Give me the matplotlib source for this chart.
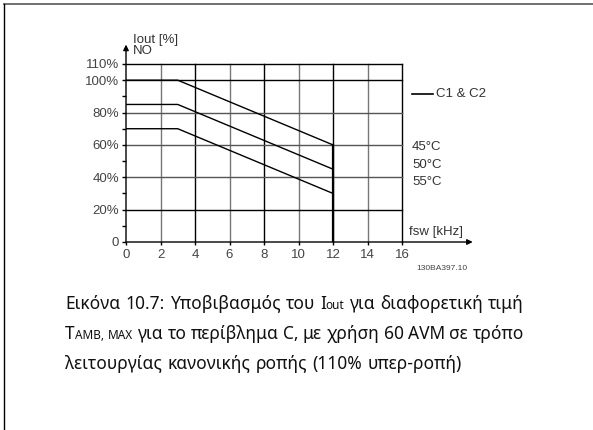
import matplotlib
matplotlib.use("Agg")
import matplotlib.pyplot as plt
from matplotlib.lines import Line2D

# derating curves, fsw [kHz] vs Iout [%]
fsw = [0, 3, 12]
iout_45 = [100, 100, 60]
iout_50 = [85, 85, 45]
iout_55 = [70, 70, 30]
temps = ["45°C", "50°C", "55°C"]

x_ticks = [0, 2, 4, 6, 8, 10, 12, 14, 16]
y_ticks = [0, 20, 40, 60, 80, 100, 110]
y_labels = ["0", "20%", "40%", "60%", "80%", "100%", "110%"]

W, H = 593, 430
fig = plt.figure(figsize=(W / 100, H / 100), dpi=100)


def fx(px):
    return px / W


def fy(py):
    return 1 - py / H


# page frame (top and left edge)
fig.add_artist(Line2D([fx(4), 1], [fy(4), fy(4)], color="#666666", lw=1.3))
fig.add_artist(Line2D([fx(4), fx(4)], [fy(4), 0], color="black", lw=1.0))

ax = fig.add_axes([fx(126), fy(242), fx(402) - fx(126), fy(64) - fy(242)])
ax.set_xlim(0, 16)
ax.set_ylim(0, 110)
for s in ax.spines.values():
    s.set_visible(False)

# grid
for xv in x_ticks[1:]:
    ax.axvline(xv, color="#777777" if xv % 4 else "black", lw=1.0, zorder=1, clip_on=False)
for yv in y_ticks[1:]:
    ax.axhline(yv, color="#555555" if yv in (80, 60, 40) else "black", lw=1.0, zorder=1, clip_on=False)

tick_font = dict(family="Liberation Sans", size=9.5, color="#444444")
ax.set_xticks(x_ticks)
ax.set_xticklabels([str(v) for v in x_ticks], **tick_font)
ax.set_yticks(y_ticks)
ax.set_yticklabels(y_labels, **tick_font)
ax.set_yticks([10, 30, 50, 70, 90], minor=True)
ax.tick_params(axis="y", which="both", length=3, width=1, pad=2, color="black")
ax.tick_params(axis="x", length=2, width=1, pad=3, color="black")

# curves
for ys in (iout_45, iout_50, iout_55):
    ax.plot(fsw, ys, color="black", lw=1.0, zorder=3)
ax.plot([fsw[-1], fsw[-1]], [0, iout_45[-1]], color="black", lw=1.6, zorder=3)

# axis arrows
ax.annotate("", xy=(0, 122), xytext=(0, 0), annotation_clip=False,
            arrowprops=dict(arrowstyle="-|>", color="black", lw=1.0,
                            mutation_scale=8, shrinkA=0, shrinkB=0))
ax.annotate("", xy=(20.1, 0), xytext=(0, 0), annotation_clip=False,
            arrowprops=dict(arrowstyle="-|>", color="black", lw=1.0,
                            mutation_scale=8, shrinkA=0, shrinkB=0))

lab = dict(family="Liberation Sans", size=9.5, color="#333333")
fig.text(fx(133), fy(40), "Iout [%]", va="center", ha="left", **lab)
fig.text(fx(133), fy(51), "NO", va="center", ha="left", **lab)
fig.text(fx(409), fy(232), "fsw [kHz]", va="center", ha="left", **lab)
fig.text(fx(416), fy(268), "130BA397.10", va="center", ha="left",
         family="Liberation Sans", size=6, color="#444444")

# legend / temperatures
fig.add_artist(Line2D([fx(412), fx(433)], [fy(94), fy(94)], color="black", lw=1.2))
fig.text(fx(436), fy(94), "C1 & C2", va="center", ha="left", **lab)
for i, t in enumerate(temps):
    fig.text(fx(412), fy(147 + 17.5 * i), t, va="center", ha="left", **lab)

# caption
fig.canvas.draw()
rend = fig.canvas.get_renderer()
cap = dict(family="Noto Sans", color="#111111")
BIG, SMALL = 12.5, 8.5


def place_line(words, ybase, x0, x1, justify):
    arts = []
    widths = []
    for w in words:
        pieces = []
        width = 0
        for txt, sz in w:
            t = fig.text(0, fy(ybase), txt, size=sz, va="baseline", ha="left", **cap)
            bb = t.get_window_extent(rend)
            pieces.append((t, width))
            width += bb.width
        arts.append(pieces)
        widths.append(width)
    a2 = fig.text(0, 0, "a a", size=BIG, **cap)
    a1 = fig.text(0, 0, "a", size=BIG, **cap)
    space = a2.get_window_extent(rend).width - 2 * a1.get_window_extent(rend).width
    a2.remove()
    a1.remove()
    if justify:
        gap = (x1 - x0 - sum(widths)) / (len(words) - 1)
    else:
        gap = space * 1.2
    x = x0
    for pieces, wdt in zip(arts, widths):
        for t, off in pieces:
            t.set_x(fx(x + off))
        x += wdt + gap


line1 = [[("Εικόνα", BIG)], [("10.7:", BIG)], [("Υποβιβασμός", BIG)], [("του", BIG)],
         [("I", BIG), ("out", SMALL)], [("για", BIG)], [("διαφορετική", BIG)], [("τιμή", BIG)]]
line2 = [[("T", BIG), ("AMB,", SMALL)], [("MAX", SMALL)], [("για", BIG)], [("το", BIG)],
         [("περίβλημα", BIG)], [("C,", BIG)], [("με", BIG)], [("χρήση", BIG)], [("60", BIG)],
         [("AVM", BIG)], [("σε", BIG)], [("τρόπο", BIG)]]
line3 = [[("λειτουργίας", BIG)], [("κανονικής", BIG)], [("ροπής", BIG)],
         [("(110%", BIG)], [("υπερ-ροπή)", BIG)]]

place_line(line1, 309, 65, 524, True)
place_line(line2, 339, 65, 524, True)
place_line(line3, 369, 65, 524, False)

fig.savefig("out.png", dpi=100)
